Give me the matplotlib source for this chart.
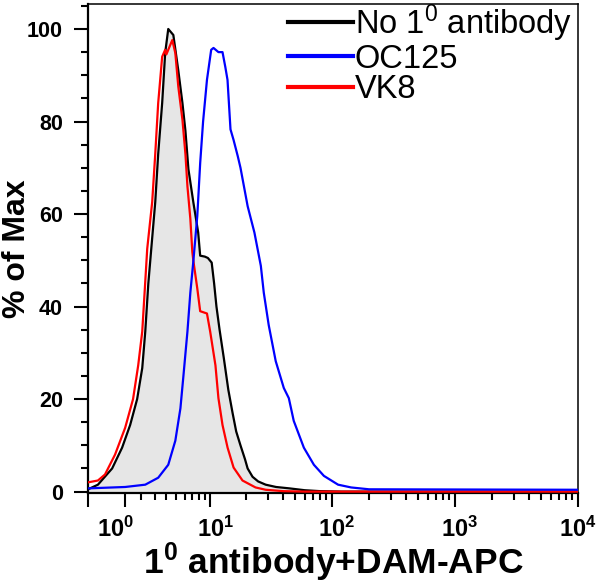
import matplotlib
matplotlib.use("Agg")
import matplotlib.pyplot as plt
import matplotlib.transforms as mtransforms
import numpy as np

plt.rcParams['font.family'] = ['Liberation Sans', 'DejaVu Sans']
plt.rcParams['mathtext.fontset'] = 'custom'
plt.rcParams['mathtext.rm'] = 'Liberation Sans'
plt.rcParams['mathtext.bf'] = 'Liberation Sans:bold'
plt.rcParams['mathtext.default'] = 'regular'

# Histogramm-Daten (x = Fluoreszenz, y = % of Max)
x_none = [-1.13, -0.55, 0.25, 0.82, 1.30, 1.74, 2.08, 2.29, 2.51, 2.73, 3.04, 3.28,
          3.62, 3.89, 4.18, 4.69, 5.23, 5.71, 6.08, 6.47, 7.15, 7.89, 8.21, 9.0,
          9.56, 10.3, 10.8, 11.3, 12.0, 13.0, 14.2, 15.4, 16.5, 17.9, 19.5, 20.5,
          22.5, 25.0, 28.8, 35.0, 45.0, 60.0, 80.0, 120.0, 10000.0]
y_none = [0.5, 1.5, 5.0, 9.5, 14.4, 20.0, 26.7, 34.6, 45.0, 52.5, 62.6, 73.0,
          84.0, 94.8, 100.0, 98.7, 91.0, 84.0, 78.0, 69.7, 62.6, 56.0, 51.0, 50.8,
          50.5, 49.5, 45.0, 40.0, 35.0, 29.0, 22.0, 17.0, 13.0, 10.0, 7.0, 5.0,
          3.2, 2.2, 1.5, 1.0, 0.7, 0.3, 0.1, 0.0, 0.0]

x_oc125 = [-1.13, 1.0, 2.29, 3.28, 4.18, 4.90, 5.47, 5.83, 6.34, 6.73, 7.15, 7.75,
           8.21, 8.7, 9.39, 10.2, 10.67, 11.74, 12.7, 13.4, 13.98, 14.8, 15.7, 17.0,
           17.9, 20.5, 23.3, 26.3, 27.8, 30.5, 34.8, 40.5, 44.5, 48.8, 59.0, 71.2,
           85.9, 112.0, 143.0, 200.0, 10000.0]
y_oc125 = [0.7, 1.0, 1.5, 3.0, 5.8, 11.0, 18.0, 25.0, 34.6, 43.0, 49.7, 59.6,
           71.0, 80.0, 89.0, 95.5, 95.9, 95.0, 95.0, 91.8, 89.0, 78.3, 76.0, 72.5,
           70.0, 61.7, 56.0, 48.8, 43.0, 36.0, 28.2, 22.4, 20.2, 15.3, 9.5, 5.8,
           3.4, 1.5, 0.9, 0.5, 0.4]

x_vk8 = [-1.13, -0.55, -0.15, 0.415, 1.0, 1.48, 1.81, 2.08, 2.29, 2.43, 2.80, 3.04,
         3.28, 3.62, 3.89, 4.0, 4.58, 4.90, 5.23, 5.71, 6.08, 6.34, 6.73, 7.01,
         7.15, 7.75, 8.21, 9.39, 10.0, 11.08, 11.74, 12.7, 14.0, 15.7, 18.6, 23.8,
         28.8, 40.0, 60.0, 10000.0]
y_vk8 = [2.0, 2.4, 3.7, 8.0, 13.8, 20.0, 27.3, 34.6, 45.4, 52.5, 62.6, 73.0,
         84.0, 94.0, 95.5, 94.5, 97.6, 94.8, 87.5, 80.4, 73.0, 66.0, 59.0, 51.8,
         50.0, 43.9, 39.0, 38.5, 34.6, 27.3, 20.2, 14.4, 9.5, 5.2, 2.4, 0.9,
         0.4, 0.1, 0.0, 0.0]

labels = ['No 1$^{0}$ antibody', 'OC125', 'VK8']
x_ticks = [1, 10, 100, 1000, 10000]
x_ticklabels = [r'$\mathbf{10^{0}}$', r'$\mathbf{10^{1}}$', r'$\mathbf{10^{2}}$',
                r'$\mathbf{10^{3}}$', r'$\mathbf{10^{4}}$']
y_ticks = [0, 20, 40, 60, 80, 100]

fig = plt.figure(figsize=(6, 5.83), dpi=100)
ax = fig.add_axes([88 / 600, 1 - 493 / 583, 490 / 600, 489 / 583])

ax.fill_between(x_none, y_none, 0, color='#e6e6e6', lw=0)
ax.plot(x_none, y_none, color='black', lw=1.6, label=labels[0])
ax.plot(x_vk8, y_vk8, color='#ff0000', lw=1.6, label=labels[2], zorder=3)
ax.plot(x_oc125, y_oc125, color='#0000ff', lw=1.6, label=labels[1], zorder=4)

ax.set_xscale('asinh', linear_width=3)
ax.set_xlim(-1.13, 10000)
ax.set_ylim(-0.3, 105.4)

# Achsen-Ticks
ax.set_xticks([-1.13] + x_ticks)
ax.set_xticklabels([''] + x_ticklabels)
minor_x = [m * 10 ** k for k in range(4) for m in range(2, 10)]
ax.set_xticks(minor_x, minor=True)
ax.set_yticks(y_ticks)
ax.set_yticks(np.arange(5, 106, 5), minor=True)
ax.tick_params(axis='both', which='major', direction='out', length=10, width=1.5)
ax.tick_params(axis='y', which='major', labelsize=15.5, pad=8)
ax.tick_params(axis='x', which='major', labelsize=17, pad=7)
ax.tick_params(axis='both', which='minor', direction='out', length=5, width=1.5)
for lab in ax.get_yticklabels():
    lab.set_fontweight('bold')

# x-Beschriftungen: "10" mittig unter dem Tick, 10^0 etwas nach links
shifts = [0, -10, 5, 5, 5, 0]
for lab, dx in zip(ax.get_xticklabels(), shifts):
    lab.set_transform(lab.get_transform() +
                      mtransforms.ScaledTranslation(dx / 100, 0, fig.dpi_scale_trans))

for side in ['left', 'bottom']:
    ax.spines[side].set_linewidth(1.6)
for side in ['top', 'right']:
    ax.spines[side].set_linewidth(1.1)

ax.set_xlabel('1$^{0}$ antibody+DAM-APC', fontsize=25.5, fontweight='bold', labelpad=-1)
ax.set_ylabel('% of Max', fontsize=23, fontweight='bold')
ax.yaxis.set_label_coords(-0.115, 0.5)

# Legende oben rechts, ohne Rahmen
handles, labs = ax.get_legend_handles_labels()
order = [0, 2, 1]
leg = ax.legend([handles[i] for i in order], [labs[i] for i in order],
                loc='upper left', bbox_to_anchor=(288 / 600, 1 - 2 / 583),
                bbox_transform=fig.transFigure, frameon=False, fontsize=23.5,
                handlelength=2.0, handletextpad=0.05, labelspacing=0.0,
                borderpad=0, borderaxespad=0)
for line in leg.get_lines():
    line.set_linewidth(3)

plt.savefig('out.png', dpi=100)
